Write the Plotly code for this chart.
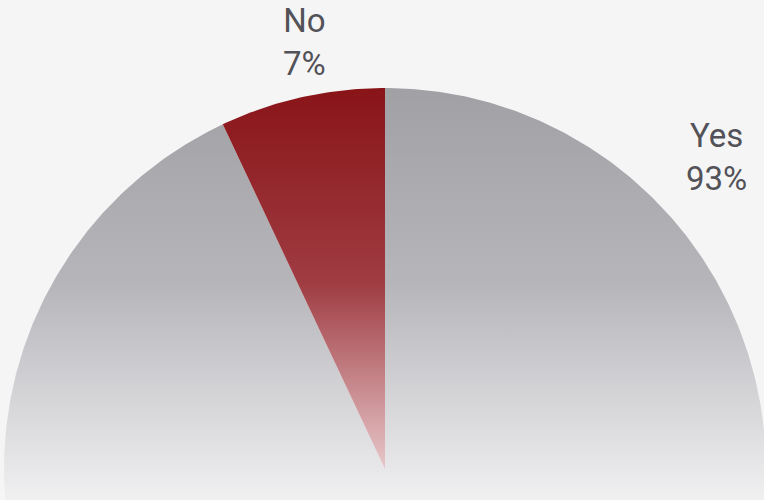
import numpy as np
import plotly.graph_objects as go

# Survey answers
labels = ["Yes", "No"]
values = [93, 7]

# Vertical gradient stops for each slice (bottom -> top)
gray_scale = [[0.0, "#f1f1f2"], [0.105, "#e5e5e7"], [0.53, "#b6b5ba"], [1.0, "#a1a0a5"]]
red_scale = [[0.0, "#f1dfe0"], [0.105, "#e4c0c3"], [0.53, "#9f3c42"], [1.0, "#891418"]]
scales = {"Yes": gray_scale, "No": red_scale}

BG = "#f5f5f5"
TEXT = "#535258"

fig = go.Figure()

total = sum(values)
start = 0.0
for lab, val in zip(labels, values):
    frac = val / total
    theta = np.linspace(start, start + frac, max(int(frac * 720), 8)) * 2 * np.pi
    xs = np.concatenate([[0.0], np.sin(theta), [0.0]])
    ys = np.concatenate([[0.0], np.cos(theta), [0.0]])
    fig.add_trace(go.Scatter(
        x=xs, y=ys, mode="lines", fill="toself",
        line=dict(width=0, color="rgba(0,0,0,0)"),
        fillgradient=dict(type="vertical", colorscale=scales[lab], start=-0.09, stop=1.0),
        name=lab, hoverinfo="name", showlegend=False,
    ))
    start += frac

# Slice labels
label_pos = {"Yes": (0.869, 0.818), "No": (-0.21, 1.12)}
for lab, val in zip(labels, values):
    x, y = label_pos[lab]
    fig.add_annotation(
        x=x, y=y, text=f"{lab}<br>{val}%", showarrow=False,
        font=dict(family="Roboto", size=33, color=TEXT),
        xanchor="center", yanchor="middle", align="center",
    )

fig.update_xaxes(range=[-385 / 381, 379 / 381], visible=False, fixedrange=True)
fig.update_yaxes(range=[-31 / 381, 469 / 381], visible=False, fixedrange=True)
fig.update_layout(
    width=764, height=500,
    margin=dict(l=0, r=0, t=0, b=0),
    paper_bgcolor=BG, plot_bgcolor=BG,
)

fig.write_html("out.html")
